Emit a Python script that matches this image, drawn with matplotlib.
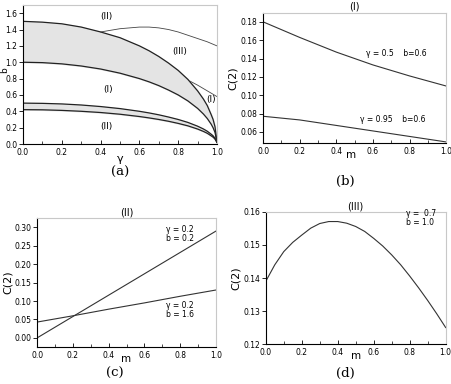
import numpy as np
import matplotlib
matplotlib.use("Agg")
import matplotlib.pyplot as plt
from matplotlib.ticker import MultipleLocator

# ---- panel (a): phase diagram in the (gamma, b) plane ----
gam = [0.0, 0.1, 0.2, 0.3, 0.4, 0.5, 0.6, 0.65, 0.7, 0.75, 0.8, 0.85, 0.9,
       0.93, 0.95, 0.97, 0.98, 0.99, 1.0]
b_upper = [1.50, 1.49, 1.47, 1.43, 1.37, 1.30, 1.20, 1.14, 1.07, 0.99, 0.90,
           0.79, 0.65, 0.55, 0.47, 0.36, 0.30, 0.21, 0.02]
b_lower = [1.00, 0.995, 0.98, 0.954, 0.917, 0.866, 0.80, 0.76, 0.714, 0.66,
           0.60, 0.527, 0.436, 0.367, 0.312, 0.243, 0.199, 0.141, 0.02]
b_small_hi = [0.50, 0.497, 0.49, 0.477, 0.458, 0.433, 0.40, 0.38, 0.357, 0.33,
              0.30, 0.264, 0.218, 0.184, 0.156, 0.12, 0.10, 0.07, 0.02]
b_small_lo = [0.42, 0.418, 0.411, 0.40, 0.385, 0.364, 0.336, 0.319, 0.30,
              0.278, 0.252, 0.222, 0.183, 0.154, 0.131, 0.10, 0.084, 0.06, 0.02]
gam_iii = [0.4, 0.45, 0.5, 0.55, 0.6, 0.65, 0.7, 0.75, 0.8, 0.85, 0.9, 0.95, 1.0]
b_iii = [1.37, 1.39, 1.41, 1.42, 1.43, 1.43, 1.42, 1.40, 1.37, 1.33, 1.29, 1.25, 1.20]
gam_i = [0.86, 0.9, 0.95, 1.0]
b_i = [0.77, 0.72, 0.65, 0.58]

# ---- panel (b) ----
m_b = [0.0, 0.2, 0.4, 0.6, 0.8, 1.0]
c_b1 = [0.180, 0.163, 0.147, 0.133, 0.121, 0.110]
c_b2 = [0.077, 0.073, 0.067, 0.061, 0.055, 0.049]

# ---- panel (c) ----
m_c = [0.0, 0.2, 0.4, 0.6, 0.8, 1.0]
c_c1 = [0.000, 0.058, 0.116, 0.174, 0.232, 0.290]
c_c2 = [0.043, 0.060, 0.078, 0.095, 0.113, 0.130]

# ---- panel (d) ----
m_d = [0.0, 0.05, 0.1, 0.15, 0.2, 0.25, 0.3, 0.35, 0.4, 0.45, 0.5,
       0.55, 0.6, 0.65, 0.7, 0.75, 0.8, 0.85, 0.9, 0.95, 1.0]
c_d = [0.1390, 0.1440, 0.1480, 0.1508, 0.1530, 0.1551, 0.1565, 0.1571, 0.1571,
       0.1566, 0.1556, 0.1541, 0.1520, 0.1497, 0.1470, 0.1440, 0.1406, 0.1370,
       0.1332, 0.1292, 0.1250]

LC = "#333333"
TF = 5.5


def style(ax):
    for s in ("top", "right"):
        ax.spines[s].set_color("#c8c8c8")
    ax.spines["left"].set_linewidth(0.8)
    ax.spines["bottom"].set_linewidth(0.8)
    ax.tick_params(axis="y", direction="out", length=3, width=0.6, labelsize=TF, pad=1)
    ax.tick_params(axis="x", direction="in", length=3, width=0.6, labelsize=TF, pad=3)
    ax.tick_params(axis="x", which="minor", direction="in", length=2, width=0.5)
    ax.tick_params(axis="y", which="minor", direction="out", length=2, width=0.5)
    ax.tick_params(top=False, right=False, which="both")
    ax.xaxis.set_major_locator(MultipleLocator(0.2))
    ax.xaxis.set_minor_locator(MultipleLocator(0.1))
    ax.set_xlim(0, 1.0)


fig = plt.figure(figsize=(4.52, 3.84), dpi=100)

# (a)
ax = fig.add_axes([0.051, 0.625, 0.429, 0.362])
style(ax)
ax.set_ylim(0, 1.7)
ax.yaxis.set_major_locator(MultipleLocator(0.2))
ax.fill_between(gam, b_lower, b_upper, color="#e4e4e4")
ax.fill_between(gam, b_small_lo, b_small_hi, color="#e4e4e4")
for yv in (b_upper, b_lower, b_small_hi, b_small_lo):
    ax.plot(gam, yv, color="#222222", lw=0.9)
ax.plot(gam_iii, b_iii, color="#444444", lw=0.6)
ax.plot(gam_i, b_i, color="#444444", lw=0.6)
for x, y, s in [(0.43, 1.56, "(II)"), (0.81, 1.13, "(III)"), (0.44, 0.67, "(I)"),
                (0.97, 0.54, "(I)"), (0.43, 0.21, "(II)")]:
    ax.text(x, y, s, fontsize=6.5, ha="center", va="center")
fig.text(0.001, 0.817, "b", fontsize=6.5, ha="left", va="center", rotation=90)
ax.annotate("γ", xy=(0.5, 0), xycoords="axes fraction", xytext=(0, -7),
            textcoords="offset points", ha="center", va="top", fontsize=8)
fig.text(0.266, 0.55, "(a)", fontsize=9.5, family="DejaVu Serif", ha="center", va="center")

# (b)
ax = fig.add_axes([0.582, 0.628, 0.405, 0.339])
style(ax)
ax.set_ylim(0.048, 0.19)
ax.yaxis.set_major_locator(MultipleLocator(0.02))
ax.plot(m_b, c_b1, color=LC, lw=0.8)
ax.plot(m_b, c_b2, color=LC, lw=0.8)
ax.text(0.56, 0.143, "γ = 0.5    b=0.6", fontsize=5.5)
ax.text(0.53, 0.071, "γ = 0.95    b=0.6", fontsize=5.5)
ax.set_ylabel("C(2)", fontsize=8, labelpad=2)
ax.annotate("m", xy=(0.48, 0), xycoords="axes fraction", xytext=(0, -5),
            textcoords="offset points", ha="center", va="top", fontsize=7.5)
ax.set_title("(I)", fontsize=7, pad=2)
fig.text(0.763, 0.528, "(b)", fontsize=9.5, family="DejaVu Serif", ha="center", va="center")

# (c)
ax = fig.add_axes([0.082, 0.096, 0.396, 0.336])
style(ax)
ax.set_ylim(-0.025, 0.325)
ax.yaxis.set_major_locator(MultipleLocator(0.05))
ax.plot(m_c, c_c1, color=LC, lw=0.8)
ax.plot(m_c, c_c2, color=LC, lw=0.8)
ax.text(0.72, 0.262, "γ = 0.2\nb = 0.2", fontsize=5.5, linespacing=1.0)
ax.text(0.72, 0.057, "γ = 0.2\nb = 1.6", fontsize=5.5, linespacing=1.0)
ax.set_ylabel("C(2)", fontsize=8, labelpad=1)
ax.annotate("m", xy=(0.5, 0), xycoords="axes fraction", xytext=(0, -5),
            textcoords="offset points", ha="center", va="top", fontsize=7.5)
ax.set_title("(II)", fontsize=7, pad=2)
fig.text(0.255, 0.028, "(c)", fontsize=9.5, family="DejaVu Serif", ha="center", va="center")

# (d)
ax = fig.add_axes([0.588, 0.104, 0.398, 0.344])
style(ax)
ax.set_ylim(0.12, 0.16)
ax.yaxis.set_major_locator(MultipleLocator(0.01))
ax.plot(m_d, c_d, color=LC, lw=0.8)
ax.text(0.78, 0.1562, "γ =  0.7\nb = 1.0", fontsize=5.5, linespacing=1.0)
ax.set_ylabel("C(2)", fontsize=8, labelpad=2)
ax.annotate("m", xy=(0.5, 0), xycoords="axes fraction", xytext=(0, -5),
            textcoords="offset points", ha="center", va="top", fontsize=7.5)
ax.set_title("(III)", fontsize=7, pad=2)
fig.text(0.763, 0.028, "(d)", fontsize=9.5, family="DejaVu Serif", ha="center", va="center")

fig.savefig("out.png", dpi=100)
